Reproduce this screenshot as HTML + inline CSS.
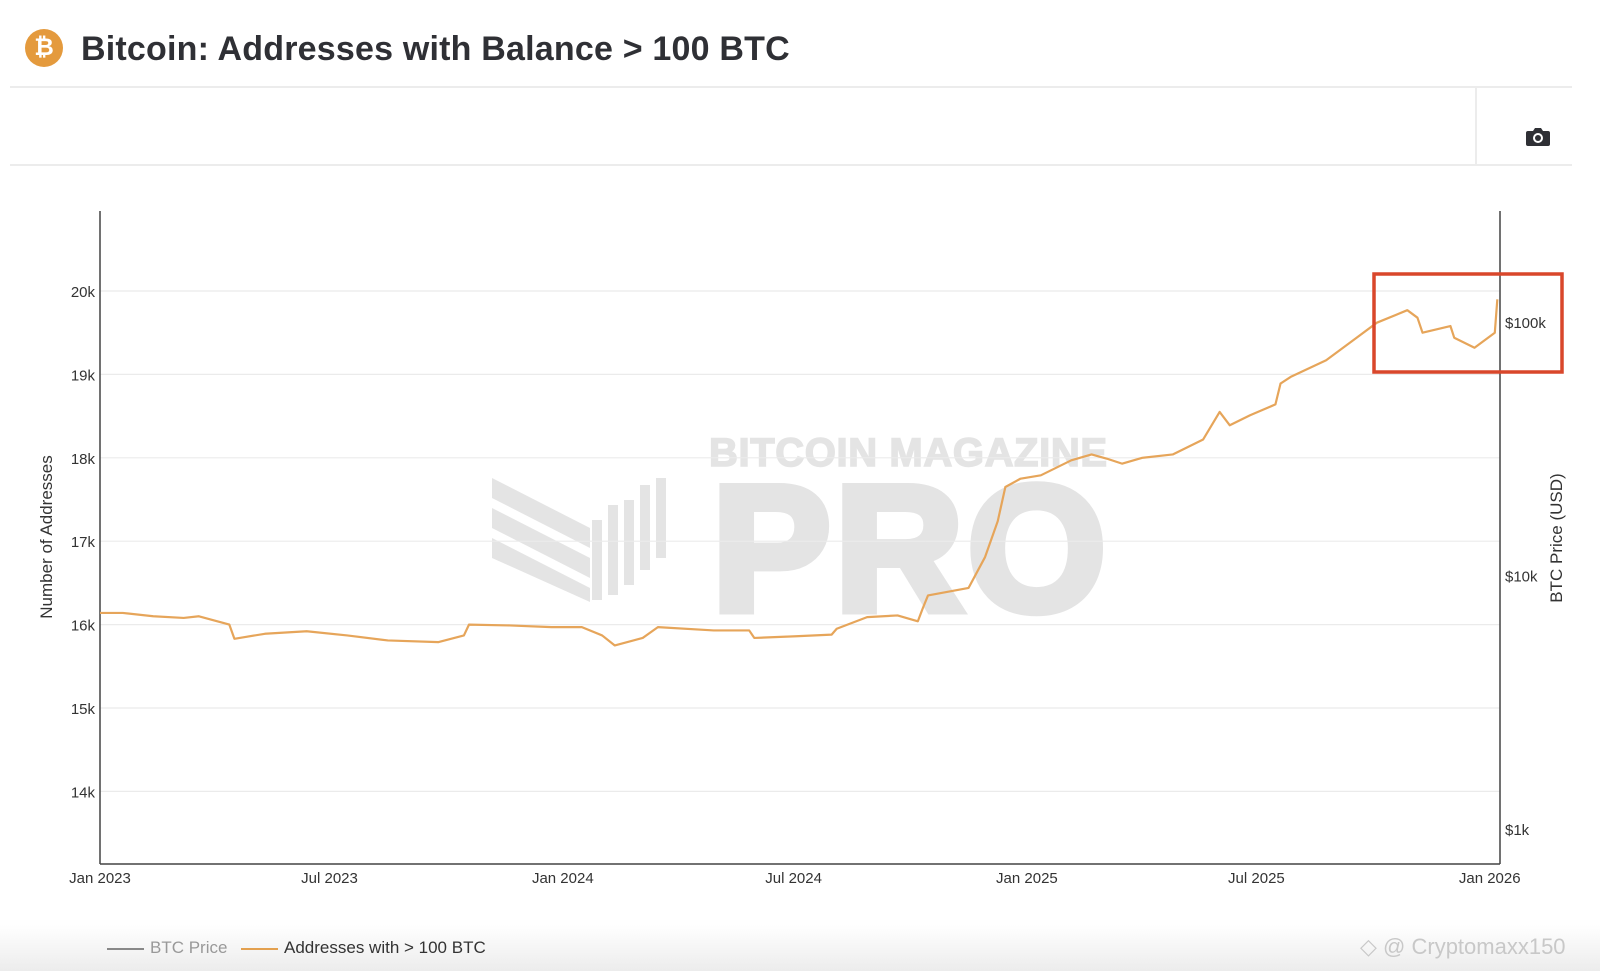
<!DOCTYPE html>
<html><head><meta charset="utf-8"><style>
body{margin:0;width:1600px;height:971px;background:#fff;overflow:hidden;font-family:"Liberation Sans",sans-serif;position:relative}
.abs{position:absolute}
</style></head><body>
<div class="abs" style="left:25px;top:29px;width:38px;height:38px;border-radius:50%;background:#e49a3d;color:#fff;font-weight:bold;font-size:24px;text-align:center;line-height:38px;">₿</div>
<div class="abs" style="left:81px;top:30px;font-size:34px;font-weight:bold;color:#2f3035;letter-spacing:0.2px;white-space:nowrap">Bitcoin: Addresses with Balance &gt; 100 BTC</div>
<div class="abs" style="left:10px;top:86px;width:1562px;height:2px;background:#ececec"></div>
<div class="abs" style="left:10px;top:164px;width:1562px;height:2px;background:#ececec"></div>
<div class="abs" style="left:1475px;top:87px;width:2px;height:78px;background:#ececec"></div>
<svg class="abs" style="left:1525px;top:126px" width="26" height="22" viewBox="0 0 26 22"><path d="M3 5h5l2-3h6l2 3h5a2 2 0 0 1 2 2v11a2 2 0 0 1-2 2H3a2 2 0 0 1-2-2V7a2 2 0 0 1 2-2z" fill="#2f3035"/><circle cx="13" cy="12" r="5" fill="#fff"/><circle cx="13" cy="12" r="3" fill="#2f3035"/></svg>

<svg class="abs" style="left:0;top:0" width="1600" height="971" id="chart">
  <g fill="#e4e4e4" stroke="#e4e4e4">
    <text x="709" y="466" font-size="40" font-weight="bold" stroke-width="1.5" textLength="398" font-family="Liberation Sans,sans-serif">BITCOIN MAGAZINE</text>
    <text x="712" y="610" font-size="178" font-weight="bold" stroke-width="9" textLength="394" font-family="Liberation Sans,sans-serif">PRO</text>
    <polygon stroke="none" points="492,478 590,528 590,548 492,498"/>
    <polygon stroke="none" points="492,508 590,558 590,578 492,528"/>
    <polygon stroke="none" points="492,538 590,588 590,602 492,558"/>
    <rect stroke="none" x="592" y="520" width="10" height="80"/><rect stroke="none" x="608" y="505" width="10" height="90"/>
    <rect stroke="none" x="624" y="500" width="10" height="85"/><rect stroke="none" x="640" y="485" width="10" height="85"/><rect stroke="none" x="656" y="478" width="10" height="80"/>
  </g>
  <g id="grid"></g>
  <g id="axes"></g>
  <g id="series"></g>
  <rect x="1374" y="274" width="188" height="98" fill="none" stroke="#d9472b" stroke-width="3.5"/>
</svg>

<div class="abs" style="left:47px;top:537px;transform:translate(-50%,-50%) rotate(-90deg);font-size:17px;color:#333;white-space:nowrap">Number of Addresses</div>
<div class="abs" style="left:1557px;top:538px;transform:translate(-50%,-50%) rotate(-90deg);font-size:17px;color:#333;white-space:nowrap">BTC Price (USD)</div>

<div class="abs" style="left:0;top:925px;width:1600px;height:46px;background:linear-gradient(#fff,#ececec)"></div>
<div class="abs" style="left:107px;top:938px;font-size:17px;color:#999;white-space:nowrap"><span style="display:inline-block;width:37px;height:2px;background:#888;vertical-align:middle;margin-right:6px"></span>BTC Price</div>
<div class="abs" style="left:241px;top:938px;font-size:17px;color:#333;white-space:nowrap"><span style="display:inline-block;width:37px;height:2px;background:#e3a04f;vertical-align:middle;margin-right:6px"></span>Addresses with &gt; 100 BTC</div>
<div class="abs" style="left:1360px;top:934px;font-size:22px;color:#c8c8c8;white-space:nowrap">◇ @ Cryptomaxx150</div>

<script>
const dates=["2023-01-01","2023-01-19","2023-02-12","2023-03-08","2023-03-20","2023-04-01","2023-04-13","2023-04-17","2023-05-11","2023-06-13","2023-07-15","2023-08-16","2023-09-25","2023-10-15","2023-10-19","2023-11-20","2023-12-23","2024-01-16","2024-02-01","2024-02-11","2024-03-04","2024-03-16","2024-04-29","2024-05-27","2024-05-31","2024-07-03","2024-07-31","2024-08-04","2024-08-28","2024-09-21","2024-10-07","2024-10-11","2024-10-15","2024-11-16","2024-11-29","2024-12-09","2024-12-15","2024-12-27","2025-01-12","2025-02-05","2025-02-21","2025-03-05","2025-03-17","2025-04-02","2025-04-26","2025-05-20","2025-06-02","2025-06-10","2025-06-26","2025-07-16","2025-07-20","2025-07-28","2025-08-25","2025-09-18","2025-10-04","2025-10-28","2025-11-05","2025-11-09","2025-12-01","2025-12-04","2025-12-20","2026-01-05","2026-01-07"];
const addresses=[16140,16140,16100,16080,16100,16050,16000,15830,15890,15920,15870,15810,15790,15870,16000,15990,15970,15970,15870,15750,15840,15970,15930,15930,15840,15860,15880,15950,16090,16110,16040,16200,16350,16440,16810,17240,17650,17750,17790,17970,18040,17990,17930,18000,18040,18220,18550,18390,18510,18640,18890,18970,19170,19440,19620,19770,19680,19500,19580,19440,19320,19500,19900];
const yTicks=[14000,15000,16000,17000,18000,19000,20000];
const yTickLabels=["14k","15k","16k","17k","18k","19k","20k"];
const xTicks=["2023-01-01","2023-07-01","2024-01-01","2024-07-01","2025-01-01","2025-07-01","2026-01-01"];
const xTickLabels=["Jan 2023","Jul 2023","Jan 2024","Jul 2024","Jan 2025","Jul 2025","Jan 2026"];
const priceTicks=[1000,10000,100000];
const priceTickLabels=["$1k","$10k","$100k"];

const L=100,R=1500,T=211,B=864,NS="http://www.w3.org/2000/svg";
const t0=Date.UTC(2023,0,1);
function dayOf(s){const p=s.split("-");return (Date.UTC(+p[0],p[1]-1,+p[2])-t0)/864e5;}
function x(s){return L+dayOf(s)*1.268;}
function y(v){return 291+(20000-v)*0.0834;}
function yp(v){return 323+(5-Math.log10(v))*253.5;}
function el(tag,attrs,parent){const e=document.createElementNS(NS,tag);for(const k in attrs)e.setAttribute(k,attrs[k]);parent.appendChild(e);return e;}
const grid=document.getElementById("grid"),axes=document.getElementById("axes"),series=document.getElementById("series");
yTicks.forEach((v,i)=>{
  const g=el("line",{x1:L,x2:R,y1:y(v),y2:y(v),stroke:"#ebebeb","stroke-width":1.2},grid);
  
  
  const t=el("text",{x:L-5,y:y(v)+6,"text-anchor":"end","font-size":15,fill:"#333","font-family":"Liberation Sans,sans-serif"},axes);
  t.textContent=yTickLabels[i];
  
  
});
priceTicks.forEach((v,i)=>{
  const t=el("text",{x:R+5,y:yp(v)+5,"font-size":15,fill:"#333","font-family":"Liberation Sans,sans-serif"},axes);
  t.textContent=priceTickLabels[i];
  
  
});
xTicks.forEach((d,i)=>{
  const t=el("text",{x:x(d),y:883,"text-anchor":"middle","font-size":15,fill:"#333","font-family":"Liberation Sans,sans-serif"},axes);
  t.textContent=xTickLabels[i];
  
  
});
const la=el("line",{x1:L,x2:L,y1:T,y2:B,stroke:"#444","stroke-width":1.5},axes);


const ra=el("line",{x1:R,x2:R,y1:T,y2:B,stroke:"#444","stroke-width":1.5},axes);


const ba=el("line",{x1:L,x2:R,y1:B,y2:B,stroke:"#444","stroke-width":1.5},axes);


let dstr="";
dates.forEach((d,i)=>{const px=x(d),py=y(addresses[i]);
  dstr+=(i===0?"M":"L")+px+","+py;
});
const p=el("path",{d:dstr,fill:"none",stroke:"#e6a55a","stroke-width":2.2,"stroke-linejoin":"round"},series);


</script>
</body></html>
